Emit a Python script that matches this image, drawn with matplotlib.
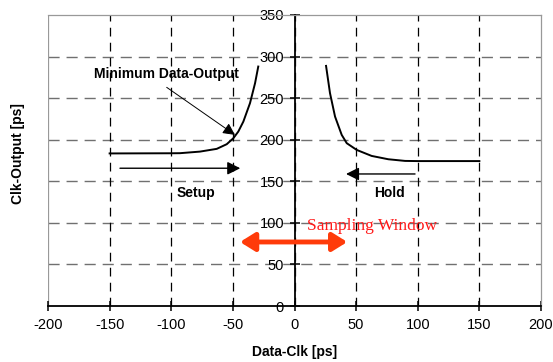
import matplotlib
matplotlib.use("Agg")
import matplotlib.pyplot as plt

plt.rcParams['font.family'] = ['Liberation Sans', 'DejaVu Sans']
plt.rcParams['axes.unicode_minus'] = False

# Setup curve (Data-Clk vs Clk-Output)
setup_x = [-150, -100, -92.9, -76.7, -63.1, -55, -49.6, -45.6, -41.5, -36.1, -32, -29.4]
setup_y = [183.5, 183.7, 183.8, 185.7, 189, 194.6, 201.8, 209.8, 221.8, 244, 268, 288]

# Hold curve
hold_x = [25.6, 28.8, 32.9, 38.3, 42.4, 50.5, 62.6, 76.1, 89.7, 100, 150]
hold_y = [288.8, 256, 227.8, 205.8, 195.8, 187.7, 180.5, 176.5, 174.5, 174.3, 174.3]

x_ticks = [-200, -150, -100, -50, 0, 50, 100, 150, 200]
y_ticks = [0, 50, 100, 150, 200, 250, 300, 350]

fig = plt.figure(figsize=(5.53, 3.62), dpi=100)
ax = fig.add_axes([48 / 553, 1 - 306 / 362, 493 / 553, 291 / 362])

ax.set_xlim(-200, 200)
ax.set_ylim(0, 350)
ax.set_xticks(x_ticks)
ax.set_yticks(y_ticks)

# Frame: y axis through zero, grey box around plot
ax.spines['left'].set_position(('data', 0))
ax.spines['left'].set_linewidth(1.3)
ax.spines['bottom'].set_linewidth(1.3)
for side in ['top', 'right']:
    ax.spines[side].set_color('#999999')
    ax.spines[side].set_linewidth(0.9)
ax.axvline(-200, color='#999999', lw=0.9, zorder=1)

ax.tick_params(direction='inout', length=7, width=1.1, labelsize=10.5, colors='black')
ax.tick_params(axis='x', pad=5)
ax.tick_params(axis='y', pad=4)

# Grid: grey dashed horizontals, black dashed verticals
for yv in y_ticks[1:-1]:
    ax.axhline(yv, color='#707070', lw=1.0, dashes=(8, 5), zorder=0)
for xv in x_ticks[1:-1]:
    ax.axvline(xv, color='black', lw=0.9, dashes=(7, 5), zorder=0)

ax.plot(setup_x, setup_y, color='black', lw=1.4, zorder=3)
ax.plot(hold_x, hold_y, color='black', lw=1.4, zorder=3)

# Setup / Hold arrows
ax.annotate('', xy=(-44, 165.7), xytext=(-141.6, 165.7),
            arrowprops=dict(arrowstyle='-|>,head_length=0.6,head_width=0.3',
                            mutation_scale=13, lw=1.0, color='black',
                            shrinkA=0, shrinkB=0))
ax.annotate('', xy=(41.8, 158.8), xytext=(97.8, 158.8),
            arrowprops=dict(arrowstyle='-|>,head_length=0.6,head_width=0.3',
                            mutation_scale=13, lw=1.0, color='black',
                            shrinkA=0, shrinkB=0))
ax.text(-80, 135.6, 'Setup', ha='center', va='center', fontsize=10, weight='bold')
ax.text(76.7, 135.6, 'Hold', ha='center', va='center', fontsize=10, weight='bold')

# Minimum Data-Output annotation
ax.text(-103.7, 279, 'Minimum Data-Output', ha='center', va='center',
        fontsize=10, weight='bold', zorder=4)
ax.annotate('', xy=(-48.3, 205.8), xytext=(-103.7, 263),
            arrowprops=dict(arrowstyle='-|>,head_length=0.6,head_width=0.3',
                            mutation_scale=12, lw=0.7, color='black',
                            shrinkA=0, shrinkB=0))

# Sampling window
ax.annotate('', xy=(-44.2, 77), xytext=(42.8, 77),
            arrowprops=dict(arrowstyle='<|-|>,head_length=0.8,head_width=0.5',
                            mutation_scale=11, lw=3.5, color='#FF3B0A',
                            shrinkA=0, shrinkB=0), zorder=5)
ax.text(62.6, 91.5, 'Sampling Window', ha='center', va='baseline',
        fontsize=12.5, color='#FF1A1A', family=['Liberation Serif', 'DejaVu Serif'])

fig.text(294.5 / 553, 1 - 352 / 362, 'Data-Clk [ps]', ha='center', va='center',
         fontsize=10, weight='bold')
fig.text(18 / 553, 1 - 154 / 362, 'Clk-Output [ps]', ha='center', va='center',
         rotation=90, fontsize=10, weight='bold')

fig.savefig('out.png', dpi=100)
